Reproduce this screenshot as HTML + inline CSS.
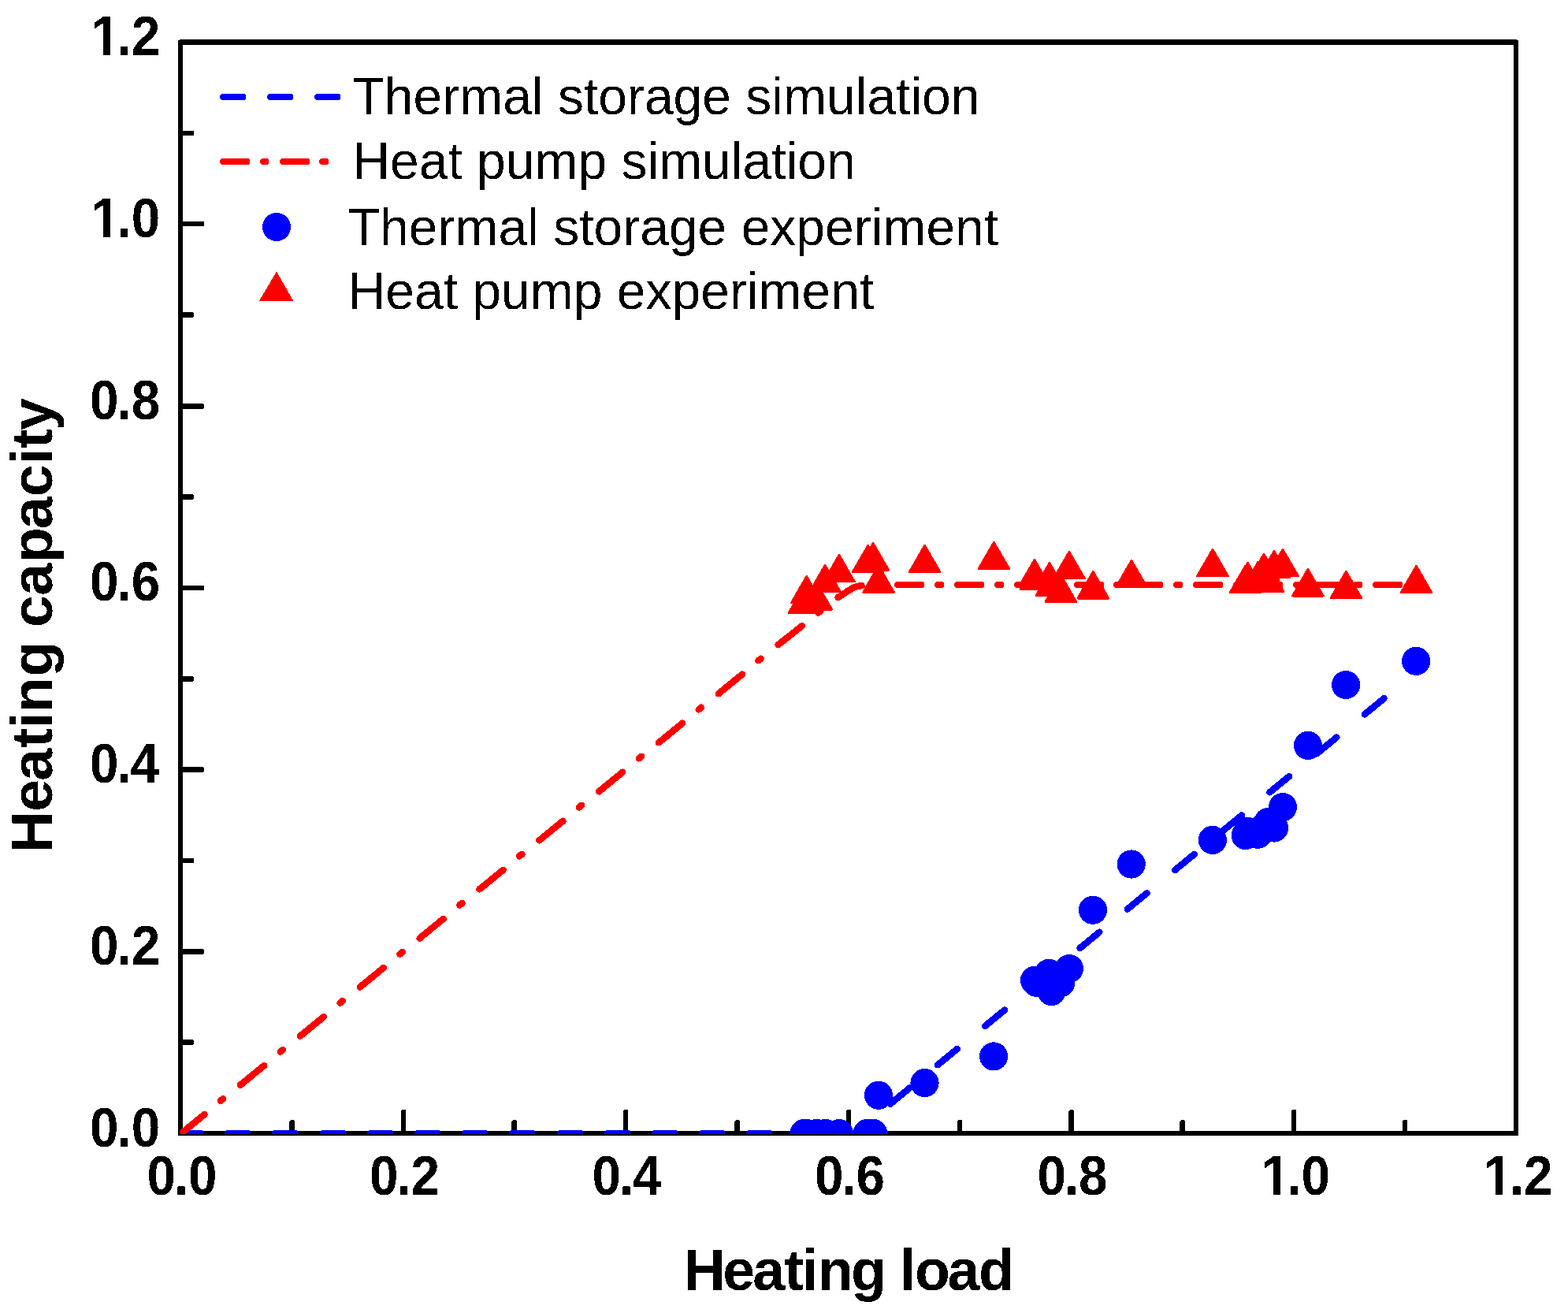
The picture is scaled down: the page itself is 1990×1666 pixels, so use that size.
<!DOCTYPE html>
<html lang="en"><head><meta charset="utf-8"><title>Heating capacity vs heating load</title>
<style>html,body{margin:0;padding:0;background:#fff}body{width:1990px;height:1666px;overflow:hidden}svg{display:block}text{font-family:"Liberation Sans",sans-serif;fill:#000;white-space:pre}.b{font-weight:bold}.tk{font-size:65.6px}.ti{font-size:73.4px}.lg{font-size:66px}</style></head><body>
<svg width="1990" height="1666" viewBox="0 0 1990 1666" role="img" aria-label="Heating capacity versus heating load">
<defs>
<clipPath id="plot"><rect x="228" y="53" width="1697" height="1386"/></clipPath>
<filter id="bin" filterUnits="userSpaceOnUse" x="0" y="0" width="1990" height="1666" color-interpolation-filters="sRGB"><feComponentTransfer><feFuncA type="discrete" tableValues="0 1"/></feComponentTransfer></filter>
</defs>
<rect width="1990" height="1666" fill="#fff"/>
<g fill="#000" shape-rendering="crispEdges">
<rect x="226" y="51" width="6" height="1390"/>
<rect x="1921" y="51" width="6" height="1390"/>
<rect x="228" y="50" width="1697" height="7"/>
<rect x="226" y="1435" width="1701" height="6"/>
<path d="M229 1319 H244 L246 1321 V1324 L244 1326 H229 Z"/>
<path d="M367 1438 V1423 L369 1421 H372 L374 1423 V1438 Z"/>
<path d="M229 1204 H257 L259 1206 V1209 L257 1211 H229 Z"/>
<path d="M509 1438 V1409 L510 1408 H514 L515 1409 V1438 Z"/>
<path d="M229 1089 H245 L246 1090 V1094 L245 1095 H229 Z"/>
<path d="M649 1438 V1423 L651 1421 H654 L656 1423 V1438 Z"/>
<path d="M229 973 H257 L259 975 V978 L257 980 H229 Z"/>
<path d="M791 1438 V1409 L792 1408 H796 L797 1409 V1438 Z"/>
<path d="M229 858 H244 L246 860 V863 L244 865 H229 Z"/>
<path d="M932 1438 V1423 L934 1421 H937 L939 1423 V1438 Z"/>
<path d="M229 743 H258 L259 744 V748 L258 749 H229 Z"/>
<path d="M1074 1438 V1409 L1075 1408 H1079 L1080 1409 V1438 Z"/>
<path d="M229 627 H244 L246 629 V632 L244 634 H229 Z"/>
<path d="M1215 1438 V1422 L1216 1421 H1220 L1221 1422 V1438 Z"/>
<path d="M229 512 H257 L259 514 V517 L257 519 H229 Z"/>
<path d="M1356 1438 V1410 L1358 1408 H1361 L1363 1410 V1438 Z"/>
<path d="M229 396 H244 L246 398 V401 L244 403 H229 Z"/>
<path d="M1497 1438 V1423 L1499 1421 H1502 L1504 1423 V1438 Z"/>
<path d="M229 281 H258 L259 282 V286 L258 287 H229 Z"/>
<path d="M1639 1438 V1409 L1640 1408 H1644 L1645 1409 V1438 Z"/>
<path d="M229 166 H245 L246 167 V171 L245 172 H229 Z"/>
<path d="M1780 1438 V1422 L1781 1421 H1785 L1786 1422 V1438 Z"/>
</g>
<g filter="url(#bin)">
<g class="b tk">
<text x="186.5 220.93 239.12" y="0" transform="translate(0 1516) scale(1 1.06)">0.0</text>
<text x="469 503.43 521.62" y="0" transform="translate(0 1516) scale(1 1.06)">0.2</text>
<text x="751.5 785.93 802.92" y="0" transform="translate(0 1516) scale(1 1.06)">0.4</text>
<text x="1034 1068.43 1086.62" y="0" transform="translate(0 1516) scale(1 1.06)">0.6</text>
<text x="1316.5 1350.93 1369.12" y="0" transform="translate(0 1516) scale(1 1.06)">0.8</text>
<text x="1600.19 1633.43 1651.62" y="0" transform="translate(0 1516) scale(1 1.06)">1.0</text>
<text x="1882.69 1915.93 1934.12" y="0" transform="translate(0 1516) scale(1 1.06)">1.2</text>
<text x="114.1 148.53 166.72" y="0" transform="translate(0 1454.6) scale(1 1.06)">0.0</text>
<text x="114.1 148.53 166.72" y="0" transform="translate(0 1223.85) scale(1 1.06)">0.2</text>
<text x="114.1 148.53 165.52" y="0" transform="translate(0 993.1) scale(1 1.06)">0.4</text>
<text x="114.1 148.53 166.72" y="0" transform="translate(0 762.35) scale(1 1.06)">0.6</text>
<text x="114.1 148.53 166.72" y="0" transform="translate(0 531.6) scale(1 1.06)">0.8</text>
<text x="115.29 148.53 166.72" y="0" transform="translate(0 300.85) scale(1 1.06)">1.0</text>
<text x="115.29 148.53 166.72" y="0" transform="translate(0 70.1) scale(1 1.06)">1.2</text>
</g>
<text class="b ti" x="867.99 917.31 955.18 995.43 1017.84 1037.89 1079.98 1124.82 1141.84 1161.08 1202.38 1242.1" y="0" transform="translate(0 1636.9) scale(1 1.0)">Heating load</text>
<text class="b ti" x="-1082.09 -1029.74 -990.77 -948.62 -924.16 -903.96 -858.52 -813.68 -795.92 -755.67 -713.93 -671.27 -630.17 -589.36 -568.77 -546.05" y="0" transform="translate(66.1 0) rotate(-90) scale(1 1.0)">Heating capacity</text>
<g class="lg">
<text transform="translate(447.5 145.1) scale(1 1.0)">Thermal storage simulation</text>
<text transform="translate(447.3 226.7) scale(1 1.0)">Heat pump simulation</text>
<text transform="translate(441.8 310.9) scale(1 1.0)">Thermal storage experiment</text>
<text transform="translate(441.6 392) scale(1 1.0)">Heat pump experiment</text>
</g>
</g>
<g fill="#fff" shape-rendering="crispEdges">
<rect x="1603.32" y="1508.3" width="12.18" height="8.7"/>
<rect x="1624.5" y="1508.3" width="11.35" height="8.7"/>
<rect x="1885.82" y="1508.3" width="12.18" height="8.7"/>
<rect x="1907" y="1508.3" width="11.35" height="8.7"/>
<rect x="118.42" y="293.15" width="12.18" height="8.7"/>
<rect x="139.6" y="293.15" width="11.35" height="8.7"/>
<rect x="118.42" y="62.4" width="12.18" height="8.7"/>
<rect x="139.6" y="62.4" width="11.35" height="8.7"/>
</g>
<g shape-rendering="crispEdges">
<g fill="#00f">
<path d="M281 119 h29 l2 2 v4 l-2 2 h-29 l-2 -2 v-4 Z"/>
<path d="M341 119 h29 l2 2 v4 l-2 2 h-29 l-2 -2 v-4 Z"/>
<path d="M401 119 h29 l2 2 v4 l-2 2 h-29 l-2 -2 v-4 Z"/>
<circle cx="351" cy="288" r="18.1"/>
</g>
<g fill="#f00">
<path d="M281 201 h34 l2 2 v4 l-2 2 h-34 l-2 -2 v-4 Z"/>
<path d="M332 201 h7 l2 2 v4 l-2 2 h-7 l-2 -2 v-4 Z"/>
<path d="M357 201 h34 l2 2 v4 l-2 2 h-34 l-2 -2 v-4 Z"/>
<path d="M407 201 h8 l2 2 v4 l-2 2 h-8 l-2 -2 v-4 Z"/>
<path d="M351 344.6 L372.4 382 H328.7 Z"/>
</g>
<g clip-path="url(#plot)">
<g fill="#00f">
<path d="M227 1434 h29 l2 2 v4 l-2 2 h-29 l-2 -2 v-4 Z"/>
<path d="M287 1434 h29 l2 2 v4 l-2 2 h-29 l-2 -2 v-4 Z"/>
<path d="M347 1434 h29 l2 2 v4 l-2 2 h-29 l-2 -2 v-4 Z"/>
<path d="M408 1434 h29 l2 2 v4 l-2 2 h-29 l-2 -2 v-4 Z"/>
<path d="M468 1434 h29 l2 2 v4 l-2 2 h-29 l-2 -2 v-4 Z"/>
<path d="M528 1434 h29 l2 2 v4 l-2 2 h-29 l-2 -2 v-4 Z"/>
<path d="M588 1434 h29 l2 2 v4 l-2 2 h-29 l-2 -2 v-4 Z"/>
<path d="M648 1434 h29 l2 2 v4 l-2 2 h-29 l-2 -2 v-4 Z"/>
<path d="M709 1434 h29 l2 2 v4 l-2 2 h-29 l-2 -2 v-4 Z"/>
<path d="M769 1434 h29 l2 2 v4 l-2 2 h-29 l-2 -2 v-4 Z"/>
<path d="M829 1434 h29 l2 2 v4 l-2 2 h-29 l-2 -2 v-4 Z"/>
<path d="M889 1434 h29 l2 2 v4 l-2 2 h-29 l-2 -2 v-4 Z"/>
<path d="M949 1434 h29 l2 2 v4 l-2 2 h-29 l-2 -2 v-4 Z"/>
<path d="M1010 1434 h29 l2 2 v4 l-2 2 h-29 l-2 -2 v-4 Z"/>
</g>
<g fill="none" stroke="#00f" stroke-width="8.5" stroke-linecap="round" stroke-linejoin="round">
<path d="M1071.75 1438 L1083.9 1438 L1096.45 1428.12"/>
<path d="M1129.85 1400.7 L1154.55 1380.42"/>
<path d="M1190.05 1351.27 L1214.75 1330.99"/>
<path d="M1250.25 1301.85 L1274.95 1281.57"/>
<path d="M1310.45 1252.42 L1335.15 1232.14"/>
<path d="M1370.65 1203 L1395.35 1182.72"/>
<path d="M1430.85 1153.57 L1455.55 1133.3"/>
<path d="M1491.05 1104.15 L1515.75 1083.87"/>
<path d="M1551.25 1054.73 L1575.95 1034.45"/>
<path d="M1611.45 1005.3 L1636.15 985.02"/>
<path d="M1671.65 955.88 L1696.35 935.6"/>
<path d="M1731.85 906.45 L1756.55 886.17"/>
</g>
<g fill="#f00">
<path d="M1112 738 h8 l2 2 v4 l-2 2 h-8 l-2 -2 v-4 Z"/>
<path d="M1137 738 h34 l2 2 v4 l-2 2 h-34 l-2 -2 v-4 Z"/>
<path d="M1188 738 h8 l2 2 v4 l-2 2 h-8 l-2 -2 v-4 Z"/>
<path d="M1213 738 h34 l2 2 v4 l-2 2 h-34 l-2 -2 v-4 Z"/>
<path d="M1264 738 h8 l2 2 v4 l-2 2 h-8 l-2 -2 v-4 Z"/>
<path d="M1289 738 h34 l2 2 v4 l-2 2 h-34 l-2 -2 v-4 Z"/>
<path d="M1339 738 h8 l2 2 v4 l-2 2 h-8 l-2 -2 v-4 Z"/>
<path d="M1365 738 h34 l2 2 v4 l-2 2 h-34 l-2 -2 v-4 Z"/>
<path d="M1415 738 h8 l2 2 v4 l-2 2 h-8 l-2 -2 v-4 Z"/>
<path d="M1440 738 h34 l2 2 v4 l-2 2 h-34 l-2 -2 v-4 Z"/>
<path d="M1491 738 h8 l2 2 v4 l-2 2 h-8 l-2 -2 v-4 Z"/>
<path d="M1516 738 h34 l2 2 v4 l-2 2 h-34 l-2 -2 v-4 Z"/>
<path d="M1567 738 h8 l2 2 v4 l-2 2 h-8 l-2 -2 v-4 Z"/>
<path d="M1592 738 h34 l2 2 v4 l-2 2 h-34 l-2 -2 v-4 Z"/>
<path d="M1643 738 h8 l2 2 v4 l-2 2 h-8 l-2 -2 v-4 Z"/>
<path d="M1668 738 h34 l2 2 v4 l-2 2 h-34 l-2 -2 v-4 Z"/>
<path d="M1719 738 h8 l2 2 v4 l-2 2 h-8 l-2 -2 v-4 Z"/>
<path d="M1744 738 h34 l2 2 v4 l-2 2 h-34 l-2 -2 v-4 Z"/>
<path d="M1795 738 h8 l2 2 v4 l-2 2 h-8 l-2 -2 v-4 Z"/>
</g>
<g fill="none" stroke="#f00" stroke-width="8.5" stroke-linecap="round" stroke-linejoin="round">
<path d="M229.25 1438.7 L259.35 1414.07"/>
<path d="M279.95 1396.71 L283.15 1394.09"/>
<path d="M305.09 1376.64 L335.19 1352.02"/>
<path d="M355.79 1334.66 L358.99 1332.04"/>
<path d="M380.93 1314.59 L411.03 1289.96"/>
<path d="M431.63 1272.61 L434.83 1269.99"/>
<path d="M456.77 1252.54 L486.87 1227.91"/>
<path d="M507.47 1210.56 L510.67 1207.94"/>
<path d="M532.61 1190.49 L562.71 1165.86"/>
<path d="M583.31 1148.5 L586.51 1145.89"/>
<path d="M608.45 1128.43 L638.55 1103.81"/>
<path d="M659.15 1086.45 L662.35 1083.83"/>
<path d="M684.29 1066.38 L714.39 1041.75"/>
<path d="M734.99 1024.4 L738.19 1021.78"/>
<path d="M760.13 1004.33 L790.23 979.7"/>
<path d="M810.83 962.35 L814.03 959.73"/>
<path d="M835.97 942.28 L866.07 917.65"/>
<path d="M886.67 900.29 L889.87 897.68"/>
<path d="M911.81 880.23 L941.91 855.6"/>
<path d="M962.51 838.24 L965.71 835.62"/>
<path d="M987.65 818.17 L990 816.25 L1017.75 794.3"/>
<path d="M1038.35 777.5 L1040 776.2 L1041.55 774.97"/>
<path d="M1063.49 758.11 L1068 755.4 L1072 752.7 L1076 749.9 L1080 747.5 L1084 745.2 L1088 744 L1092 743.3 L1093.59 743.1"/>
</g>
<g fill="#00f">
<circle cx="1020.65" cy="1438" r="18.1"/>
<circle cx="1023.72" cy="1438" r="18.1"/>
<circle cx="1036.33" cy="1438" r="18.1"/>
<circle cx="1047.14" cy="1438" r="18.1"/>
<circle cx="1064.92" cy="1438" r="18.1"/>
<circle cx="1100.6" cy="1438" r="18.1"/>
<circle cx="1108.14" cy="1438" r="18.1"/>
<circle cx="1114.95" cy="1389.7" r="18.1"/>
<circle cx="1173.5" cy="1374.1" r="18.1"/>
<circle cx="1261.1" cy="1340.4" r="18.1"/>
<circle cx="1313" cy="1243.9" r="18.1"/>
<circle cx="1315.4" cy="1246.8" r="18.1"/>
<circle cx="1331.2" cy="1234.85" r="18.1"/>
<circle cx="1357" cy="1229" r="18.1"/>
<circle cx="1334.5" cy="1258" r="18.1"/>
<circle cx="1346.1" cy="1247.2" r="18.1"/>
<circle cx="1387" cy="1154.7" r="18.1"/>
<circle cx="1435.7" cy="1096.5" r="18.1"/>
<circle cx="1538.9" cy="1065.9" r="18.1"/>
<circle cx="1580.8" cy="1060" r="18.1"/>
<circle cx="1583.47" cy="1055" r="18.1"/>
<circle cx="1596.4" cy="1058.7" r="18.1"/>
<circle cx="1603.98" cy="1050" r="18.1"/>
<circle cx="1609.45" cy="1043" r="18.1"/>
<circle cx="1617" cy="1050.5" r="18.1"/>
<circle cx="1628" cy="1024.1" r="18.1"/>
<circle cx="1660" cy="945.9" r="18.1"/>
<circle cx="1708.1" cy="869" r="18.1"/>
<circle cx="1797.2" cy="838.8" r="18.1"/>
</g>
<g fill="#f00" stroke="#f00" stroke-width="3" stroke-linejoin="round">
<path d="M1023.72 731.55 L1043.01 764.95 H1004.43 Z"/>
<path d="M1020.65 743.9 L1039.94 777.3 H1001.36 Z"/>
<path d="M1036.33 739.9 L1055.62 773.3 H1017.04 Z"/>
<path d="M1047.14 717.48 L1066.43 750.88 H1027.85 Z"/>
<path d="M1064.92 704.52 L1084.21 737.92 H1045.63 Z"/>
<path d="M1101.6 692.45 L1120.89 725.85 H1082.31 Z"/>
<path d="M1108.14 689.64 L1127.43 723.04 H1088.85 Z"/>
<path d="M1115.03 718 L1134.32 751.4 H1095.74 Z"/>
<path d="M1173.6 692.4 L1192.89 725.8 H1154.31 Z"/>
<path d="M1261.4 688.4 L1280.69 721.8 H1242.11 Z"/>
<path d="M1312.96 710.48 L1332.25 743.88 H1293.67 Z"/>
<path d="M1314.73 714.2 L1334.02 747.6 H1295.44 Z"/>
<path d="M1331.94 714.56 L1351.23 747.96 H1312.65 Z"/>
<path d="M1334.63 722.1 L1353.92 755.5 H1315.34 Z"/>
<path d="M1346.35 730 L1365.64 763.4 H1327.06 Z"/>
<path d="M1356.94 700.43 L1376.23 733.83 H1337.65 Z"/>
<path d="M1387.3 725.6 L1406.59 759 H1368.01 Z"/>
<path d="M1436 711.5 L1455.29 744.9 H1416.71 Z"/>
<path d="M1539 697.4 L1558.29 730.8 H1519.71 Z"/>
<path d="M1583.47 714.46 L1602.76 747.86 H1564.18 Z"/>
<path d="M1580.65 718.2 L1599.94 751.6 H1561.36 Z"/>
<path d="M1596.6 713.5 L1615.89 746.9 H1577.31 Z"/>
<path d="M1603.98 703.34 L1623.27 736.74 H1584.69 Z"/>
<path d="M1609.45 717.2 L1628.74 750.6 H1590.16 Z"/>
<path d="M1616.99 699.51 L1636.28 732.91 H1597.7 Z"/>
<path d="M1627.96 697.37 L1647.25 730.77 H1608.67 Z"/>
<path d="M1659.9 722.6 L1679.19 756 H1640.61 Z"/>
<path d="M1708.4 725.4 L1727.69 758.8 H1689.11 Z"/>
<path d="M1797.5 718.5 L1816.79 751.9 H1778.21 Z"/>
</g>
</g>
</g>
</svg></body></html>
